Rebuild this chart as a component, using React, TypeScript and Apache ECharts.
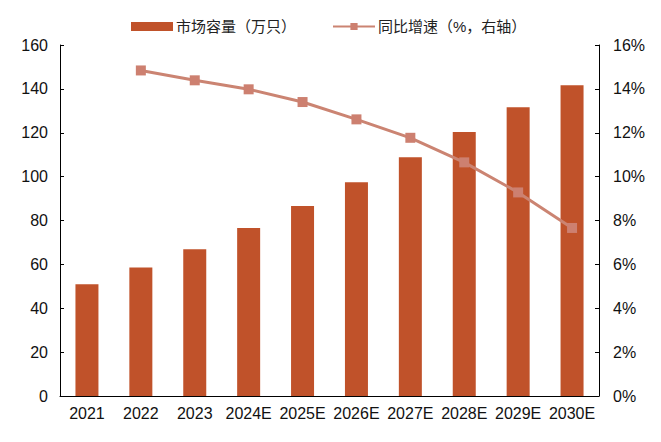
import React, { useEffect, useRef } from "react";
import * as echarts from "echarts";

const years = ["2021", "2022", "2023", "2024E", "2025E", "2026E", "2027E", "2028E", "2029E", "2030E"];
const capacity = [50.9, 58.6, 66.9, 76.6, 86.6, 97.4, 108.8, 120.3, 131.6, 141.6];
const growth = [null, 14.84, 14.39, 13.98, 13.4, 12.61, 11.77, 10.65, 9.28, 7.66];

const FONT = "'Liberation Sans', Arial, 'Noto Sans CJK SC', sans-serif";

const App: React.FC = () => {
  const chartRef = useRef<HTMLDivElement>(null);

  useEffect(() => {
    const chart = echarts.init(chartRef.current!, undefined, { renderer: "svg" });

    chart.setOption({
      animation: false,
      textStyle: { fontFamily: FONT },
      legend: {
        top: 6,
        left: 118,
        itemGap: 36,
        itemWidth: 42,
        itemHeight: 9,
        textStyle: { fontSize: 15, color: "#222", fontFamily: FONT, padding: [0, 0, 0, -2] },
        data: [
          { name: "市场容量（万只）", icon: "rect" },
          { name: "同比增速（%，右轴）" },
        ],
      },
      // div sits at (8,8) because of the body margin
      grid: { left: 52, right: 54, top: 37, bottom: 38 },
      xAxis: {
        type: "category",
        data: years,
        axisLine: { lineStyle: { color: "#000", width: 1 } },
        axisTick: { inside: true, length: 5, lineStyle: { color: "#000" } },
        axisLabel: { color: "#111", fontSize: 16, margin: 9, interval: 0 },
      },
      yAxis: [
        {
          type: "value",
          min: 0,
          max: 160,
          interval: 20,
          splitLine: { show: false },
          axisLine: { show: true, lineStyle: { color: "#000" } },
          axisTick: { show: true, inside: true, length: 4, lineStyle: { color: "#000" } },
          axisLabel: { color: "#111", fontSize: 16, margin: 12 },
        },
        {
          type: "value",
          min: 0,
          max: 16,
          interval: 2,
          splitLine: { show: false },
          axisLine: { show: true, lineStyle: { color: "#000" } },
          axisTick: { show: true, inside: true, length: 4, lineStyle: { color: "#000" } },
          axisLabel: { color: "#111", fontSize: 16, margin: 14, formatter: "{value}%" },
        },
      ],
      series: [
        {
          name: "市场容量（万只）",
          type: "bar",
          data: capacity,
          barWidth: 23,
          itemStyle: { color: "#C0522A" },
        },
        {
          name: "同比增速（%，右轴）",
          type: "line",
          yAxisIndex: 1,
          data: growth,
          symbol: "rect",
          symbolSize: 10,
          lineStyle: { color: "#CB8472", width: 3 },
          itemStyle: { color: "#CD8070" },
        },
      ],
    });

    return () => {
      chart.dispose();
    };
  }, []);

  return <div ref={chartRef} style={{ width: "645px", height: "426px" }}></div>;
};

export default App;
